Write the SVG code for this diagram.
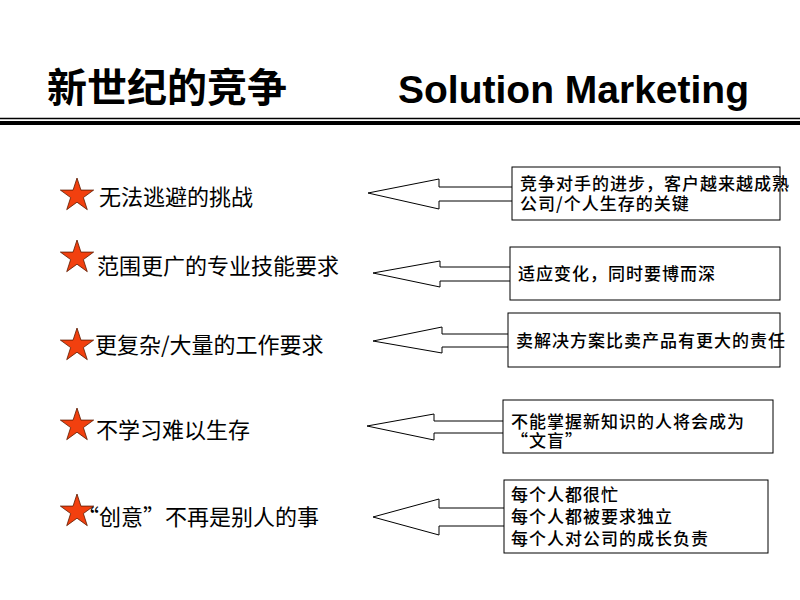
<svg xmlns="http://www.w3.org/2000/svg" width="800" height="600" viewBox="0 0 800 600">
<defs>
<style>
.cjk{font-family:"Noto Sans CJK SC","Liberation Sans",sans-serif;fill:#000}
.lbl{font-size:22px}
.box{fill:#fff;stroke:#000;stroke-width:1}
.bt{font-size:17px;font-weight:500;letter-spacing:1px}
.arr{fill:#fff;stroke:#000;stroke-width:1;stroke-linejoin:miter}
.star{fill:#F2400F;stroke:#5a1a00;stroke-width:0.8}
</style>
<polygon id="star" points="0,-17.5 3.93,-5.41 16.64,-5.41 6.36,2.07 10.29,14.16 0,6.69 -10.29,14.16 -6.36,2.07 -16.64,-5.41 -3.93,-5.41"/>
</defs>
<rect width="800" height="600" fill="#fff"/>
<g id="title">
<text class="cjk" x="47" y="102" font-size="40" font-weight="bold">新世纪的竞争</text>
<text x="398" y="103" font-family="Liberation Sans, Arial, sans-serif" font-size="39" font-weight="bold" fill="#000">Solution Marketing</text>
<line x1="0" y1="118.5" x2="800" y2="118.5" stroke="#000" stroke-width="1.5"/>
<line x1="0" y1="123" x2="800" y2="123" stroke="#000" stroke-width="4"/>
</g>
<g id="connectors">
<polyline class="arr" points="512,187 439,187 439,179 368,193 439,209 439,201 512,201"/>
<polyline class="arr" points="510,267 440,267 440,261 373,273 440,287 440,281 510,281"/>
<polyline class="arr" points="508,334 442,334 442,327 373,341 442,353 442,347 508,347"/>
<polyline class="arr" points="503,421 434,421 434,414 367,426 434,440 434,433 503,433"/>
<polyline class="arr" points="504,508 439,508 439,499 373,517 439,535 439,526 504,526"/>
</g>
<g id="item1">
<use href="#star" class="star" x="77" y="195.5"/>
<text class="cjk lbl" x="99" y="205">无法逃避的挑战</text>
</g>
<g id="item2">
<use href="#star" class="star" x="77" y="257.5"/>
<text class="cjk lbl" x="97" y="274">范围更广的专业技能要求</text>
</g>
<g id="item3">
<use href="#star" class="star" x="77" y="345.5"/>
<text class="cjk lbl" x="95" y="353">更复杂/大量的工作要求</text>
</g>
<g id="item4">
<use href="#star" class="star" x="77" y="425.5"/>
<text class="cjk lbl" x="96" y="438">不学习难以生存</text>
</g>
<g id="item5">
<use href="#star" class="star" x="77" y="511.5"/>
<text class="cjk lbl" x="77" y="525">“创意”不再是别人的事</text>
</g>
<g id="box1">
<rect class="box" x="512" y="167" width="268" height="53"/>
<text class="cjk bt" x="520" y="190">竞争对手的进步，客户越来越成熟</text>
<text class="cjk bt" x="520" y="210">公司/个人生存的关键</text>
</g>
<g id="box2">
<rect class="box" x="510" y="247" width="270" height="53"/>
<text class="cjk bt" x="518" y="280">适应变化，同时要博而深</text>
</g>
<g id="box3">
<rect class="box" x="508" y="313" width="272" height="54"/>
<text class="cjk bt" x="516" y="347">卖解决方案比卖产品有更大的责任</text>
</g>
<g id="box4">
<rect class="box" x="503" y="400" width="270" height="53"/>
<text class="cjk bt" x="511" y="428">不能掌握新知识的人将会成为</text>
<text class="cjk bt" x="511" y="447">“文盲”</text>
</g>
<g id="box5">
<rect class="box" x="504" y="480" width="264" height="73"/>
<text class="cjk bt" x="511" y="501">每个人都很忙</text>
<text class="cjk bt" x="511" y="523">每个人都被要求独立</text>
<text class="cjk bt" x="511" y="545">每个人对公司的成长负责</text>
</g>
</svg>
